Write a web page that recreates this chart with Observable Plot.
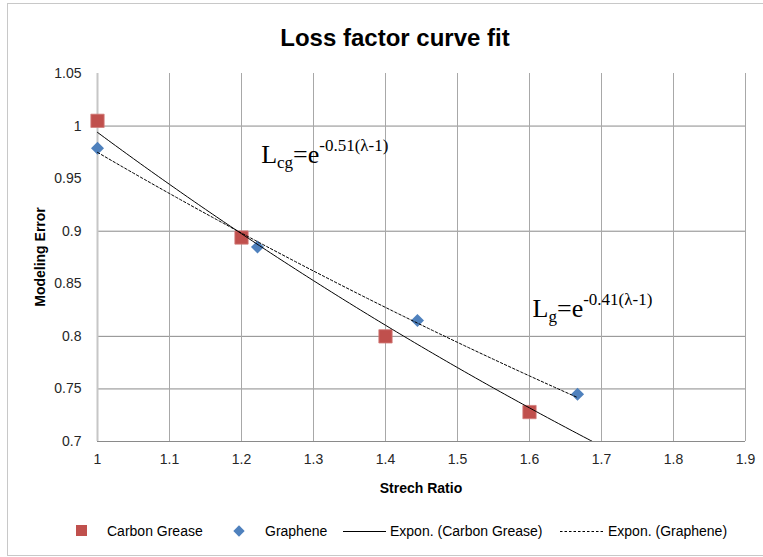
<!DOCTYPE html>
<html><head><meta charset="utf-8">
<script src="https://cdn.jsdelivr.net/npm/d3@7"></script>
<script src="https://cdn.jsdelivr.net/npm/@observablehq/plot@0.6"></script>
<style>
body{margin:0;background:#fff;}
#wrap{position:relative;width:763px;height:557px;overflow:hidden;font-family:"Liberation Sans",Arial,sans-serif;background:#fff;}
#frame{position:absolute;left:7px;top:3px;width:780px;height:551px;border:1px solid #c8c8c8;}
#chart{position:absolute;left:0;top:0;}
.t{position:absolute;white-space:nowrap;color:#000;}
#title{left:0;width:790px;text-align:center;top:24px;font-size:24px;font-weight:bold;line-height:28px;}
#xtitle{left:97px;width:648px;text-align:center;top:480px;font-size:14px;font-weight:bold;line-height:16px;}
#ytitle{left:40px;top:257px;font-size:14px;font-weight:bold;line-height:16px;transform:translate(-50%,-50%) rotate(-90deg);}
.lg{position:absolute;font-size:14px;line-height:16px;top:523px;white-space:nowrap;color:#000;}
.sw{position:absolute;}
</style></head><body>
<div id="wrap">
  <div id="frame"></div>
  <div id="chart"></div>
  <div class="t" id="title">Loss factor curve fit</div>
  <div class="t" id="xtitle">Strech Ratio</div>
  <div class="t" id="ytitle">Modeling Error</div>
  <div id="legend"></div>
</div>
<script>
// ---- data ----
const carbonX = [1, 1.2, 1.4, 1.6];
const carbonY = [1.005, 0.894, 0.800, 0.728];
const grapheneX = [1, 1.2222, 1.4444, 1.6667];
const grapheneY = [0.979, 0.885, 0.815, 0.745];
// exponential trendline coefficients  y = a * exp(b * (x - 1))
const carbonFitCoef = [0.994, -0.51];
const grapheneFitCoef = [0.975, -0.41];
const carbonFitRange = [1, 1.7];
const grapheneFitRange = [1, 1.6667];
const xTicks = [1, 1.1, 1.2, 1.3, 1.4, 1.5, 1.6, 1.7, 1.8, 1.9];
const yTicks = [0.7, 0.75, 0.8, 0.85, 0.9, 0.95, 1, 1.05];
const yGridLines = [1, 0.9, 0.8, 0.75];
const legendLabels = ["Carbon Grease", "Graphene", "Expon. (Carbon Grease)", "Expon. (Graphene)"];
const titleText = "Loss factor curve fit";

const carbon = carbonX.map((x, i) => ({x, y: carbonY[i]}));
const graphene = grapheneX.map((x, i) => ({x, y: grapheneY[i]}));
function trend(coef, range) {
  const [a, b] = coef;
  return d3.range(range[0], range[1] + 1e-9, 0.005).map(x => ({x, y: a * Math.exp(b * (x - 1))}));
}
const carbonTrend = trend(carbonFitCoef, carbonFitRange);
const grapheneTrend = trend(grapheneFitCoef, grapheneFitRange);
const fmt = d => String(+d.toFixed(2));

const plot = Plot.plot({
  width: 763, height: 557,
  marginLeft: 97, marginRight: 18, marginTop: 73, marginBottom: 116,
  style: {fontFamily: "Liberation Sans, Arial, sans-serif", fontSize: "14px", color: "#262626", background: "transparent", overflow: "visible"},
  x: {domain: [1, 1.9]},
  y: {domain: [0.7, 1.05]},
  marks: [
    Plot.ruleY(yGridLines, {stroke: "#8a8a8a", strokeWidth: 1}),
    Plot.ruleX(xTicks.slice(1), {stroke: "#a8a8a8", strokeWidth: 1}),
    Plot.ruleY([0.7], {stroke: "#8a8a8a", strokeWidth: 1}),
    Plot.ruleX([1], {stroke: "#c6c6c6", strokeWidth: 2}),
    Plot.axisX({ticks: xTicks, tickSize: 0, tickPadding: 13, tickFormat: fmt, label: null, fill: "#262626"}),
    Plot.axisY({ticks: yTicks, tickSize: 0, tickPadding: 16, tickFormat: fmt, label: null, fill: "#262626"}),
    Plot.dot(carbon, {x: "x", y: "y", symbol: "square", r: 7.5, fill: "#c0504d", stroke: "#d27e7b", strokeWidth: 0.8}),
    Plot.dot(graphene, {x: "x", y: "y", symbol: "square", r: 5.2, rotate: 45, fill: "#4f81bd"}),
    Plot.line(carbonTrend, {x: "x", y: "y", stroke: "#000", strokeWidth: 1, clip: true}),
    Plot.line(grapheneTrend, {x: "x", y: "y", stroke: "#000", strokeWidth: 1, strokeDasharray: "2.5,2", clip: true})
  ]
});
document.getElementById("chart").appendChild(plot);
document.getElementById("title").textContent = titleText;

// equations, positioned through the plot scales
const sx = plot.scale("x"), sy = plot.scale("y");
function eq(px, py, sub, sup) {
  const t = d3.select(plot).append("text")
    .attr("x", sx.apply(px)).attr("y", sy.apply(py))
    .attr("text-anchor", "start")
    .attr("font-family", "Liberation Serif, Times New Roman, serif")
    .attr("font-size", 26).attr("fill", "#000");
  t.append("tspan").text("L");
  t.append("tspan").attr("font-size", 17).attr("dy", 5).text(sub);
  t.append("tspan").attr("dy", -5).text("=e");
  t.append("tspan").attr("font-size", 17).attr("dy", -12).text(sup);
}
eq(1.228, 0.9645, "cg", "-0.51(λ-1)");
eq(1.605, 0.818, "g", "-0.41(λ-1)");

// legend
const lg = document.getElementById("legend");
function add(html) { lg.insertAdjacentHTML("beforeend", html); }
add(`<div class="sw" style="left:76px;top:525px;width:11px;height:11px;background:#c0504d"></div>`);
add(`<div class="lg" style="left:107px">${legendLabels[0]}</div>`);
add(`<div class="sw" style="left:235px;top:527px;width:8px;height:8px;background:#4f81bd;transform:rotate(45deg)"></div>`);
add(`<div class="lg" style="left:265px">${legendLabels[1]}</div>`);
add(`<svg class="sw" style="left:343px;top:526px" width="44" height="10"><line x1="0" x2="43" y1="5.5" y2="5.5" stroke="#000" stroke-width="1"/></svg>`);
add(`<div class="lg" style="left:390px">${legendLabels[2]}</div>`);
add(`<svg class="sw" style="left:560px;top:526px" width="44" height="10"><line x1="0" x2="43" y1="5.5" y2="5.5" stroke="#000" stroke-width="1" stroke-dasharray="2.5,2"/></svg>`);
add(`<div class="lg" style="left:608px">${legendLabels[3]}</div>`);
</script>
</body></html>
